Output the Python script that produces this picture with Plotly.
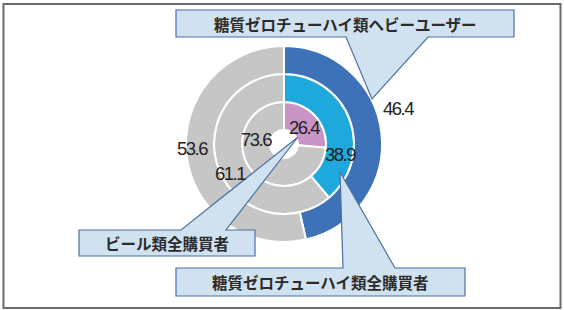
import plotly.graph_objects as go

# Data (inner -> outer)
ring_names = ["ビール類全購買者", "糖質ゼロチューハイ類全購買者", "糖質ゼロチューハイ類ヘビーユーザー"]
share_yes = [26.4, 38.9, 46.4]
share_no = [73.6, 61.1, 53.6]
ring_colors = ["#c994c6", "#1fa8dc", "#3d71b8"]
gray = "#c6c6c6"

W, H = 564, 310
cx, cy = 284, 144
radii = [42, 70, 98]
hole_r = [14, 42, 70]

fig = go.Figure()
for i in range(3):
    R = radii[i]
    fig.add_trace(go.Pie(
        values=[share_yes[i], share_no[i]],
        labels=[ring_names[i] + "・該当", ring_names[i] + "・非該当"],
        sort=False, direction="clockwise", rotation=0,
        hole=hole_r[i] / R,
        marker=dict(colors=[ring_colors[i], gray], line=dict(color="white", width=2)),
        textinfo="none", hoverinfo="label+value", showlegend=False,
        domain=dict(x=[(cx - R) / W, (cx + R) / W], y=[1 - (cy + R) / H, 1 - (cy - R) / H]),
    ))

def px(x, y):
    return f"{x / W:.5f},{1 - y / H:.5f}"

def callout(box, base, tip):
    x0, y0, x1, y1 = box
    bx0, bx1 = base
    tx, ty = tip
    if ty > y1:
        pts = [(x0, y0), (x1, y0), (x1, y1), (bx1, y1), (tx, ty), (bx0, y1), (x0, y1)]
    else:
        pts = [(x0, y0), (bx0, y0), (tx, ty), (bx1, y0), (x1, y0), (x1, y1), (x0, y1)]
    path = "M " + " L ".join(px(*p) for p in pts) + " Z"
    return dict(type="path", xref="paper", yref="paper", path=path,
                fillcolor="#d0e1f0", line=dict(color="#4d6fa3", width=1.2), layer="above")

shapes = [
    dict(type="rect", xref="paper", yref="paper", x0=3.5 / W, x1=560.5 / W, y0=1 - 308 / H, y1=1 - 4 / H,
         line=dict(color="#6b6b6b", width=2), fillcolor="rgba(0,0,0,0)", layer="below"),
    callout((176, 10, 514, 37), (346, 428), (372, 99)),
    callout((79, 230, 255, 256), (181, 226), (298, 137)),
    callout((176, 268, 465, 296), (343, 395), (340, 172)),
]

label_pos = {46.4: (398, 108), 53.6: (192, 148), 73.6: (256, 139), 26.4: (304, 127), 38.9: (340, 154), 61.1: (230, 173)}
annotations = []
for v in share_yes + share_no:
    x, y = label_pos[v]
    txt = f'<span style="letter-spacing:-1.5px">{v:.1f}</span>'
    annotations.append(dict(x=x / W, y=1 - y / H, xref="paper", yref="paper", text=txt,
                            showarrow=False,
                            font=dict(family="Liberation Sans, Arial, sans-serif", size=18.5, color="#222222"),
                            xanchor="center", yanchor="middle"))

jp_font = dict(family="Noto Sans CJK JP, sans-serif", size=15.5, color="#2b2b2b")
box_text = [(ring_names[2], (345, 23.5)), (ring_names[0], (167, 243)), (ring_names[1], (320, 282))]
for t, (x, y) in box_text:
    annotations.append(dict(x=x / W, y=1 - y / H, xref="paper", yref="paper", text=f"<b>{t}</b>",
                            showarrow=False, font=jp_font, xanchor="center", yanchor="middle"))

fig.update_layout(width=W, height=H, margin=dict(l=0, r=0, t=0, b=0),
                  paper_bgcolor="white", plot_bgcolor="white",
                  shapes=shapes, annotations=annotations)
fig.write_html("out.html")
